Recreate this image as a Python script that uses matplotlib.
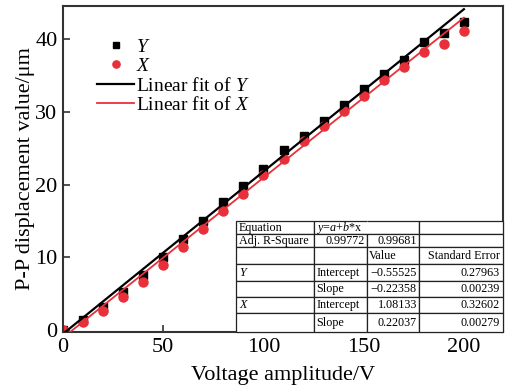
import matplotlib
matplotlib.use("Agg")
from matplotlib import pyplot as plt
from matplotlib.table import Table

plt.rcParams['font.family'] = ['Liberation Serif', 'DejaVu Serif']
plt.rcParams['mathtext.fontset'] = 'custom'
plt.rcParams['mathtext.rm'] = 'Liberation Serif'
plt.rcParams['mathtext.it'] = 'Liberation Serif:italic'

# data
voltage = [0, 10, 20, 30, 40, 50, 60, 70, 80, 90, 100,
           110, 120, 130, 140, 150, 160, 170, 180, 190, 200]
disp_y = [0.0, 1.4, 3.2, 5.2, 7.6, 10.0, 12.5, 15.0, 17.6, 19.8, 22.1,
          24.7, 26.7, 28.8, 30.9, 33.1, 35.3, 37.1, 39.6, 40.9, 42.4]
disp_x = [0.0, 1.05, 2.6, 4.5, 6.6, 8.9, 11.4, 13.9, 16.3, 18.7, 21.3,
          23.5, 26.0, 28.1, 30.2, 32.2, 34.4, 36.2, 38.2, 39.4, 41.2]

# fit parameters (intercept, slope) used for the lines
fit_y = (-0.55525, 0.22358)
fit_x = (-1.08133, 0.22037)
fit_range = (0, 200)

# table text as printed in the figure
table_rows = [
    ["Equation", r"$y$=$a$+$b$*x", "", ""],
    ["Adj. R-Square", "0.99772", "0.99681", ""],
    ["", "", "Value", "Standard Error"],
    [r"$Y$", "Intercept", "\u22120.55525", "0.27963"],
    ["", "Slope", "\u22120.22358", "0.00239"],
    [r"$X$", "Intercept", "1.08133", "0.32602"],
    ["", "Slope", "0.22037", "0.00279"],
]
table_align = [
    ["left", "left", "left", "left"],
    ["left", "right", "right", "left"],
    ["left", "left", "left", "right"],
    ["left", "left", "right", "right"],
    ["left", "left", "right", "right"],
    ["left", "left", "right", "right"],
    ["left", "left", "right", "right"],
]
col_widths = [78, 53, 52, 84]
row_heights = [13, 13, 17, 17, 16, 16, 19]

red = '#e8303a'

fig = plt.figure(figsize=(5.16, 3.87), dpi=100)
ax = fig.add_axes([63 / 516, 55 / 387, 440 / 516, 326 / 387])

ax.plot(voltage, disp_y, 's', color='black', ms=6, label=r'$Y$', zorder=2)
ax.plot(voltage, disp_x, 'o', color=red, ms=6.5, label=r'$X$', zorder=2)
fx = list(fit_range)
ax.plot(fx, [fit_y[0] + fit_y[1] * v for v in fx], '-', color='black', lw=1.6,
        label=r'Linear fit of $Y$', zorder=3)
ax.plot(fx, [fit_x[0] + fit_x[1] * v for v in fx], '-', color=red, lw=1.3,
        label=r'Linear fit of $X$', zorder=3)

ax.set_xlim(0, 219.5)
ax.set_ylim(-0.3, 44.6)
ax.set_xticks([0, 50, 100, 150, 200])
ax.set_yticks([0, 10, 20, 30, 40])
ax.tick_params(direction='in', length=5, width=1.2, labelsize=16, pad=4, color='#333333')
for sp in ax.spines.values():
    sp.set_linewidth(1.5)
    sp.set_color('#333333')
ax.set_xlabel('Voltage amplitude/V', fontsize=16, labelpad=7)
ax.set_ylabel('P-P displacement value/\u03bcm', fontsize=16, labelpad=0)

ax.legend(loc='upper left', bbox_to_anchor=(0.06, 0.925), frameon=False, fontsize=14,
          handlelength=1.9, handletextpad=0.1, labelspacing=0.08, borderaxespad=0,
          numpoints=1, markerscale=0.8)

tab = Table(ax, bbox=[0.393, 0.0, 0.607, 0.34])
for r, row in enumerate(table_rows):
    for c, txt in enumerate(row):
        cell = tab.add_cell(r, c, width=col_widths[c], height=row_heights[r],
                            text=txt, loc=table_align[r][c], facecolor='white',
                            edgecolor='#222222')
        cell.set_linewidth(0.9)
        cell.PAD = 0.04
        if r == 0 and c == 1:
            cell.visible_edges = 'BTL'
        elif r == 0 and c == 2:
            cell.visible_edges = 'BTR'
tab.auto_set_font_size(False)
tab.set_fontsize(8.7)
tab.set_zorder(5)
ax.add_table(tab)

fig.savefig('out.png', dpi=100, facecolor='white')
